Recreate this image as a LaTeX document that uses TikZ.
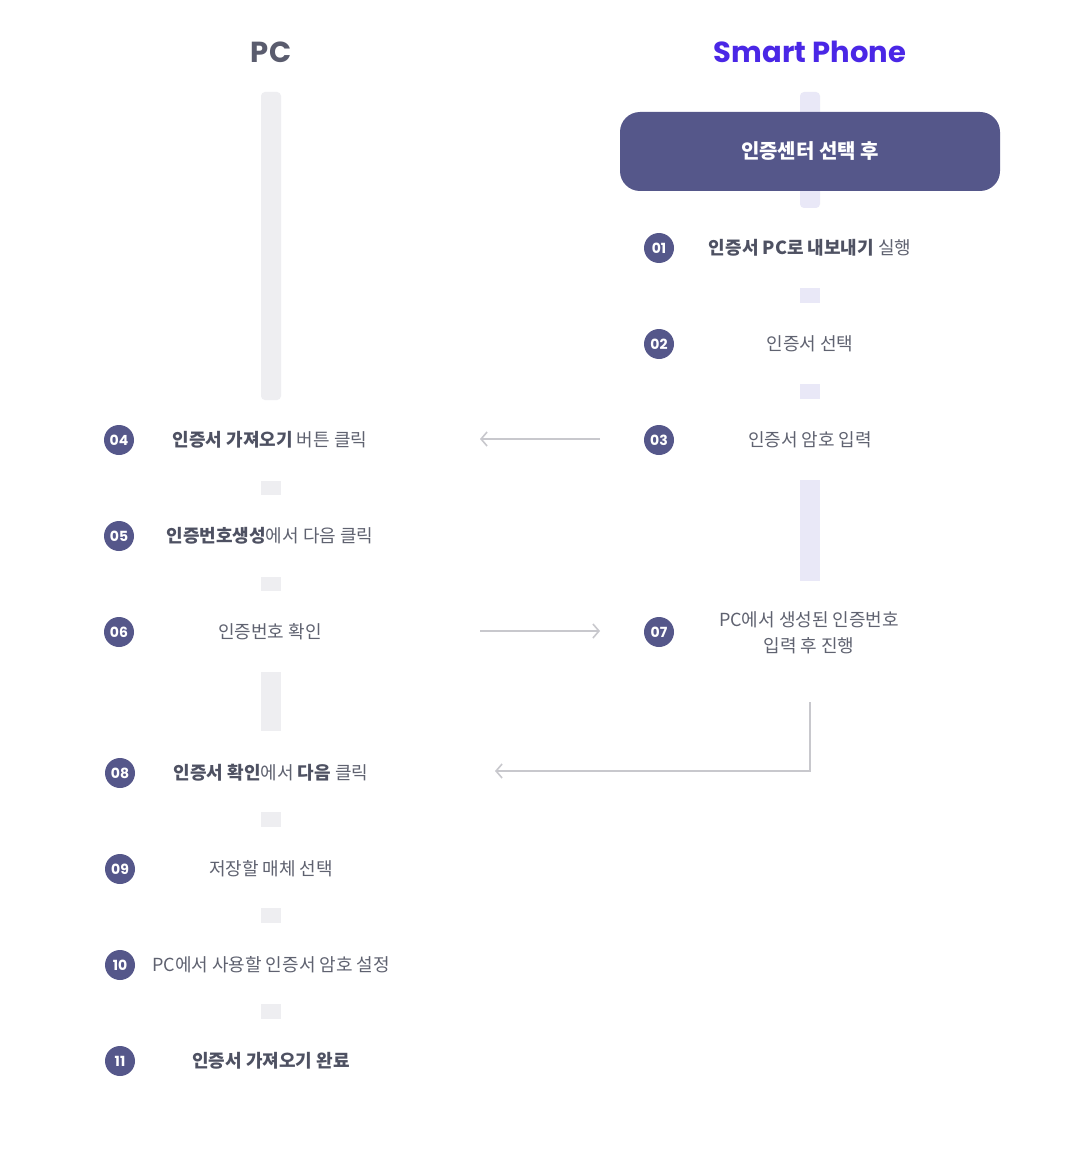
\documentclass[tikz,border=0pt]{standalone}
\usepackage{fontspec}
\setmainfont{Noto Sans CJK KR}
\newfontfamily\kr{Noto Sans CJK KR}
\newfontfamily\pop{Poppins}
\usetikzlibrary{arrows.meta}
\definecolor{txt}{HTML}{5F6270}
\definecolor{txtb}{HTML}{4E5162}
\definecolor{navy}{HTML}{55578A}
\definecolor{pcbar}{HTML}{EEEEF1}
\definecolor{phbar}{HTML}{E9E8F7}
\definecolor{arr}{HTML}{C8C8CD}
\definecolor{blue}{HTML}{4A27E6}
\definecolor{hdr}{HTML}{5A5C6E}
\begin{document}
\begin{tikzpicture}[x=1pt,y=-1pt,
  badge/.style={circle,fill=navy,minimum size=30pt,inner sep=0pt,text=white,font=\pop\bfseries\fontsize{14}{14}\selectfont},
  steptxt/.style={text=txt,font=\kr\fontsize{18}{26}\selectfont,align=center,inner sep=0pt},
  hd/.style={font=\pop\bfseries\fontsize{29}{29}\selectfont,inner sep=0pt},
  conn/.style={draw=arr,line width=1.8pt,-{Straight Barb[length=6pt,width=14pt,line width=1.6pt]}},
]
\useasboundingbox (0,0) rectangle (1080,1150);
\fill[white] (0,0) rectangle (1080,1150);
% headers
\node[hd,text=hdr] (hpc) at (271,52) {PC};
\node[hd,text=blue] (hph) at (810,52) {Smart Phone};
% PC bars
\fill[pcbar,rounded corners=4pt] (261,400) -- (261,92) -- (281,92) -- (281,400) -- cycle;
\fill[pcbar] (261,481) rectangle (281,495);
\fill[pcbar] (261,577) rectangle (281,591);
\fill[pcbar] (261,672) rectangle (281,731);
\fill[pcbar] (261,812) rectangle (281,827);
\fill[pcbar] (261,908) rectangle (281,923);
\fill[pcbar] (261,1004) rectangle (281,1019);
% phone bars
\fill[phbar,rounded corners=4pt] (800,208) -- (800,92) -- (820,92) -- (820,208) -- cycle;
\fill[phbar] (800,288) rectangle (820,303);
\fill[phbar] (800,384) rectangle (820,399);
\fill[phbar] (800,480) rectangle (820,581);
% top box
\node[fill=navy,rounded corners=20pt,minimum width=380pt,minimum height=79pt,inner sep=0pt,
  text=white,font=\kr\bfseries\fontsize{20}{20}\selectfont] (box) at (810,151.5) {인증센터 선택 후};
% phone steps
\node[badge] (b1) at (659,248) {01};
\node[steptxt] (t1) at (810,248) {\textcolor{txtb}{\bfseries 인증서 PC로 내보내기} 실행};
\node[badge] (b2) at (659,344) {02};
\node[steptxt] (t2) at (810,344) {인증서 선택};
\node[badge] (b3) at (659,440) {03};
\node[steptxt] (t3) at (810,440) {인증서 암호 입력};
\node[badge] (b7) at (659,632) {07};
\node[steptxt] (t7) at (809,633) {PC에서 생성된 인증번호\\입력 후 진행};
% pc steps
\node[badge] (b4) at (119,440) {04};
\node[steptxt] (t4) at (270,440) {\textcolor{txtb}{\bfseries 인증서 가져오기} 버튼 클릭};
\node[badge] (b5) at (119,536) {05};
\node[steptxt] (t5) at (270,536) {\textcolor{txtb}{\bfseries 인증번호생성}에서 다음 클릭};
\node[badge] (b6) at (119,632) {06};
\node[steptxt] (t6) at (270,632) {인증번호 확인};
\node[badge] (b8) at (120,773) {08};
\node[steptxt] (t8) at (271,773) {\textcolor{txtb}{\bfseries 인증서 확인}에서 \textcolor{txtb}{\bfseries 다음} 클릭};
\node[badge] (b9) at (120,869) {09};
\node[steptxt] (t9) at (271,869) {저장할 매체 선택};
\node[badge] (b10) at (120,965) {10};
\node[steptxt] (t10) at (271,965) {PC에서 사용할 인증서 암호 설정};
\node[badge] (b11) at (120,1061) {11};
\node[steptxt] (t11) at (271,1061) {\textcolor{txtb}{\bfseries 인증서 가져오기 완료}};
% connectors
\coordinate (a3s) at (600,439);
\coordinate (a3e) at (480,439);
\coordinate (a6s) at (480,631);
\coordinate (a6e) at (600,631);
\coordinate (a7s) at (810,702);
\coordinate (a7e) at (495,771);
\draw[conn] (a3s) -- (a3e);
\draw[conn] (a6s) -- (a6e);
\draw[conn] (a7s) |- (a7e);
\end{tikzpicture}
\end{document}
